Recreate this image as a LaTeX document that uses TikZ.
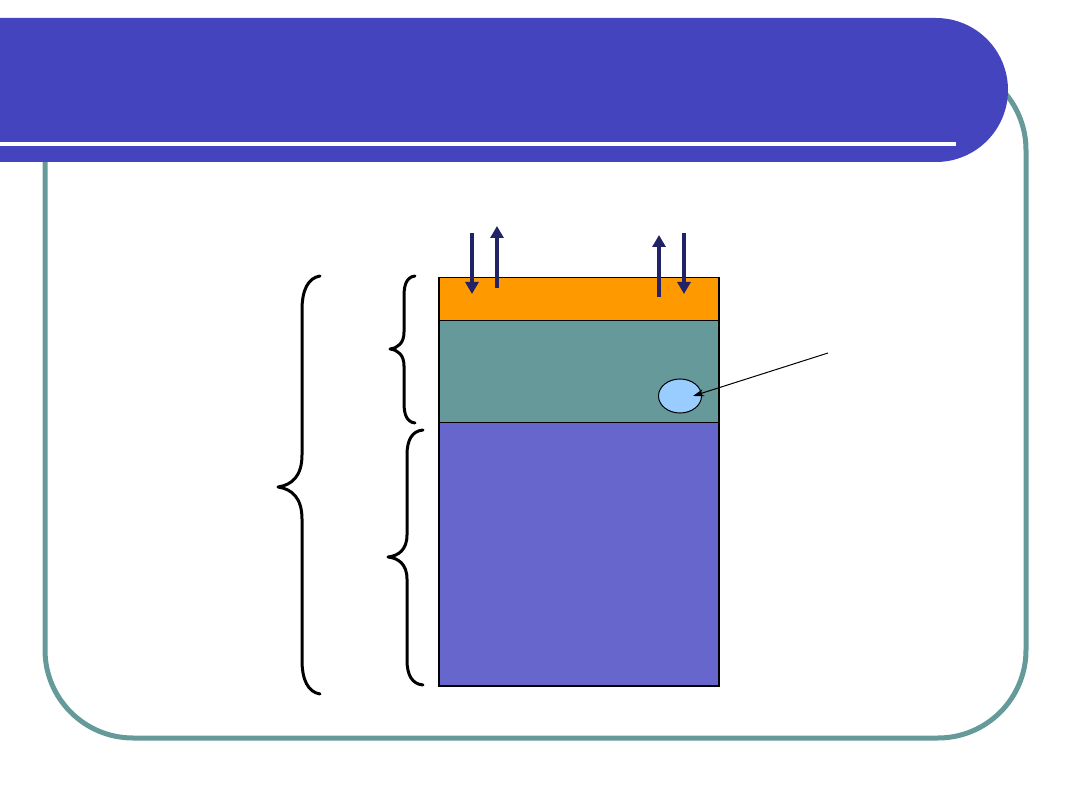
\documentclass[tikz,border=0pt]{standalone}
\usetikzlibrary{arrows.meta,shapes.geometric}
\definecolor{bannerblue}{HTML}{4445BE}
\definecolor{frameteal}{HTML}{669999}
\definecolor{layerorange}{HTML}{FF9900}
\definecolor{layerteal}{HTML}{669999}
\definecolor{layerblue}{HTML}{6666CC}
\definecolor{cellblue}{HTML}{99CCFF}
\definecolor{arrownavy}{HTML}{222266}
\tikzset{
  layer/.style={draw=black, line width=1.5pt, anchor=north west, inner sep=0pt, minimum width=280pt},
  flux/.style={draw=arrownavy, line width=4.5pt, -{Triangle[width=13pt,length=12pt]}},
  bracestroke/.style={draw=black, line width=3pt, line cap=round, line join=round},
  pointer/.style={draw=black, line width=1pt, -{Stealth[length=11pt,width=7pt]}}
}
\begin{document}
\begin{tikzpicture}[x=1pt,y=-1pt]
\useasboundingbox (0,0) rectangle (1080,810);
% frame
\draw[frameteal, line width=5pt, rounded corners=88pt] (45,62) rectangle (1026,738);
% banner
\fill[bannerblue] (0,18) -- (936,18) arc[start angle=-90, end angle=90, radius=72] -- (0,162) -- cycle;
\fill[white] (0,142) rectangle (956,146);
% layers
\node[layer, fill=layerorange, minimum height=43pt] (top) at (438,277) {};
\node[layer, fill=layerteal, minimum height=102pt] (mid) at (438,320) {};
\node[layer, fill=layerblue, minimum height=263pt] (bot) at (438,422) {};
% cell
\node[draw=black, line width=1pt, fill=cellblue, ellipse, minimum width=43pt, minimum height=34pt, inner sep=0pt] (cell) at (680,396) {};
\coordinate (ptrstart) at (828,353);
\coordinate (ptrend) at (693,396);
\draw[pointer] (ptrstart) -- (ptrend);
% flux arrows
\coordinate (a1s) at (472,233); \coordinate (a1e) at (472,294);
\coordinate (a2s) at (497,288); \coordinate (a2e) at (497,226);
\coordinate (a3s) at (659,297); \coordinate (a3e) at (659,235);
\coordinate (a4s) at (684,233); \coordinate (a4e) at (684,294);
\draw[flux] (a1s) -- (a1e);
\draw[flux] (a2s) -- (a2e);
\draw[flux] (a3s) -- (a3e);
\draw[flux] (a4s) -- (a4e);
% braces
\draw[bracestroke] (320,276) .. controls (308,278) and (302,290) .. (302,310) -- (302,455) .. controls (302,476) and (292,485) .. (278,487) .. controls (292,489) and (302,498) .. (302,519) -- (302,660) .. controls (302,680) and (308,692) .. (320,694);
\draw[bracestroke] (415,276) .. controls (407,277) and (404,284) .. (404,296) -- (404,332) .. controls (404,343) and (398,348) .. (390,349) .. controls (398,350) and (404,355) .. (404,366) -- (404,403) .. controls (404,415) and (407,422) .. (415,423);
\draw[bracestroke] (423,430) .. controls (412,431) and (407,440) .. (407,455) -- (407,535) .. controls (407,550) and (398,556) .. (388,557) .. controls (398,558) and (407,564) .. (407,579) -- (407,660) .. controls (407,675) and (412,684) .. (423,685);
\end{tikzpicture}
\end{document}
